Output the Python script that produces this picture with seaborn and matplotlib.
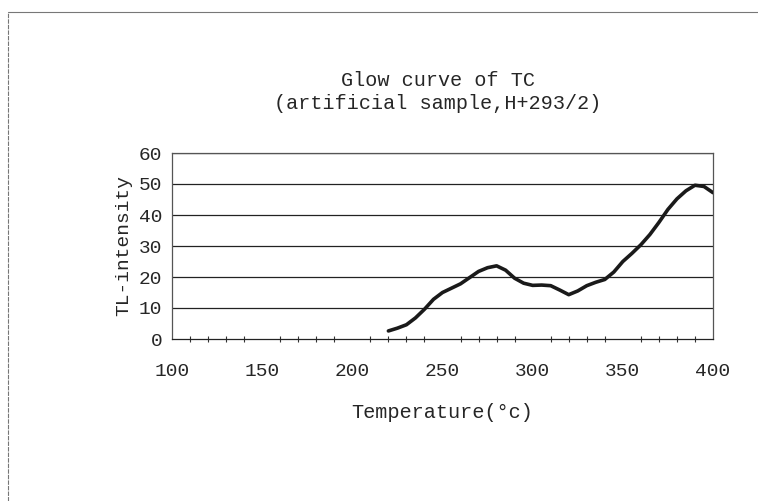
import matplotlib
matplotlib.use("Agg")
import matplotlib.pyplot as plt
import seaborn as sns
import pandas as pd
from matplotlib.lines import Line2D
from matplotlib.ticker import MultipleLocator

temperature = [220, 225, 230, 235, 240, 245, 250, 255, 260, 265, 270, 275, 280,
               285, 290, 295, 300, 305, 310, 315, 320, 325, 330, 335, 340, 345,
               350, 355, 360, 365, 370, 375, 380, 385, 390, 395, 400]
intensity = [2.6, 3.5, 4.6, 6.8, 9.6, 12.8, 15.0, 16.4, 17.8, 19.8, 21.8, 23.0, 23.6,
             22.2, 19.6, 18.0, 17.3, 17.4, 17.2, 15.8, 14.3, 15.5, 17.2, 18.3, 19.2, 21.6,
             25.0, 27.6, 30.4, 33.7, 37.6, 41.8, 45.2, 47.8, 49.6, 49.2, 47.2]
x_ticks = [100, 150, 200, 250, 300, 350, 400]
y_ticks = [0, 10, 20, 30, 40, 50, 60]

sns.set_style("white")
plt.rcParams['font.family'] = ['Liberation Mono', 'DejaVu Sans']

df = pd.DataFrame({"Temperature": temperature, "TL": intensity})

fig = plt.figure(figsize=(7.58, 5.01), dpi=100)
ax = fig.add_axes([172/758, 1 - 339/501, (713-172)/758, (339-153)/501])

for y in y_ticks[1:]:
    ax.axhline(y, color="#222222", lw=0.9, zorder=1)

sns.lineplot(data=df, x="Temperature", y="TL", ax=ax, color="#1a1a1a", lw=2.6, zorder=3)

ax.set_xlim(100, 400)
ax.set_ylim(0, 60)
ax.set_xticks(x_ticks)
ax.set_yticks(y_ticks)
ax.xaxis.set_minor_locator(MultipleLocator(10))
ax.tick_params(axis="x", which="major", direction="inout", length=7, width=0.9,
               labelsize=14, pad=14, color="#333333")
ax.tick_params(axis="x", which="minor", direction="inout", length=4, width=0.8,
               color="#333333", bottom=True)
ax.tick_params(axis="y", which="major", direction="out", length=4, width=0.9,
               labelsize=14, pad=3, color="#333333")

for s in ax.spines.values():
    s.set_color("#555555")
    s.set_linewidth(0.9)
ax.spines["bottom"].set_color("#222222")

ax.set_xlabel("Temperature(°c)", fontsize=14.6, labelpad=16)
ax.set_ylabel("TL-intensity", fontsize=14, labelpad=5)

fig.text(0.578, 1 - 80/501, "Glow curve of TC", ha="center", va="center", fontsize=14.5)
fig.text(0.578, 1 - 104/501, "(artificial sample,H+293/2)", ha="center", va="center", fontsize=14.5)

fig.add_artist(Line2D([8/758, 8/758], [0, 1 - 12/501], transform=fig.transFigure,
                      color="#777777", lw=0.8, ls=(0, (4, 1))))
fig.add_artist(Line2D([8/758, 1], [1 - 12/501, 1 - 12/501], transform=fig.transFigure,
                      color="#777777", lw=0.8))

fig.savefig("out.png", dpi=100)
